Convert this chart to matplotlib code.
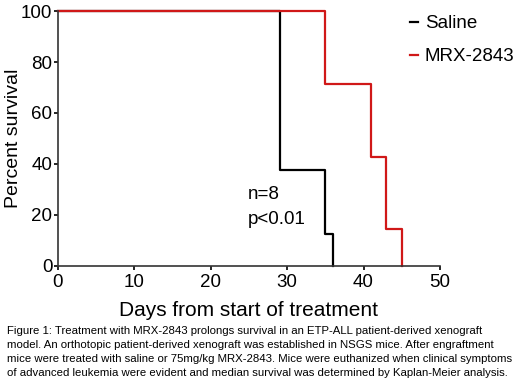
import matplotlib
matplotlib.use("Agg")
import matplotlib.pyplot as plt

plt.rcParams['font.family'] = ['Liberation Sans', 'DejaVu Sans']

# Kaplan-Meier step data (days, percent survival)
saline_days = [0, 29, 35, 36]
saline_surv = [100, 37.5, 12.5, 0]
mrx_days = [0, 35, 41, 43, 45]
mrx_surv = [100, 71.4, 42.9, 14.3, 0]

x_ticks = [0, 10, 20, 30, 40, 50]
y_ticks = [0, 20, 40, 60, 80, 100]

caption = ("Figure 1: Treatment with MRX-2843 prolongs survival in an ETP-ALL patient-derived xenograft\n"
           "model. An orthotopic patient-derived xenograft was established in NSGS mice. After engraftment\n"
           "mice were treated with saline or 75mg/kg MRX-2843. Mice were euthanized when clinical symptoms\n"
           "of advanced leukemia were evident and median survival was determined by Kaplan-Meier analysis.")

fig = plt.figure(figsize=(5.2, 3.84), dpi=100)
ax = fig.add_axes([0.1115, 0.308, 0.7345, 0.663])

ax.step(saline_days, saline_surv, where='post', color='black', linewidth=1.6,
        label='Saline', clip_on=False)
ax.step(mrx_days, mrx_surv, where='post', color='#d01818', linewidth=1.6,
        label='MRX-2843', clip_on=False)

ax.set_xlim(0, 50)
ax.set_ylim(0, 100)
ax.set_xticks(x_ticks)
ax.set_yticks(y_ticks)
ax.spines['top'].set_visible(False)
ax.spines['right'].set_visible(False)
for s in ['left', 'bottom']:
    ax.spines[s].set_linewidth(1.2)
    ax.spines[s].set_color('#333333')
ax.tick_params(direction='out', length=3, width=1.2, labelsize=13.5, pad=1)
ax.tick_params(axis='x', pad=3)

ax.set_xlabel('Days from start of treatment', fontsize=15, labelpad=7)
ax.set_ylabel('Percent survival', fontsize=14, labelpad=-1)

ax.text(24.9, 27.8, 'n=8', fontsize=13.5, va='center')
ax.text(24.9, 18, 'p<0.01', fontsize=13.5, va='center')

leg = ax.legend(loc='upper left', bbox_to_anchor=(0.921, 0.985), frameon=False,
                fontsize=13.5, handlelength=0.42, handletextpad=0.38,
                borderaxespad=0, borderpad=0, labelspacing=0.85)

fig.text(0.013, 0.152, caption, fontsize=8.2, va='top', ha='left', linespacing=1.5)

fig.savefig('out.png', dpi=100)
